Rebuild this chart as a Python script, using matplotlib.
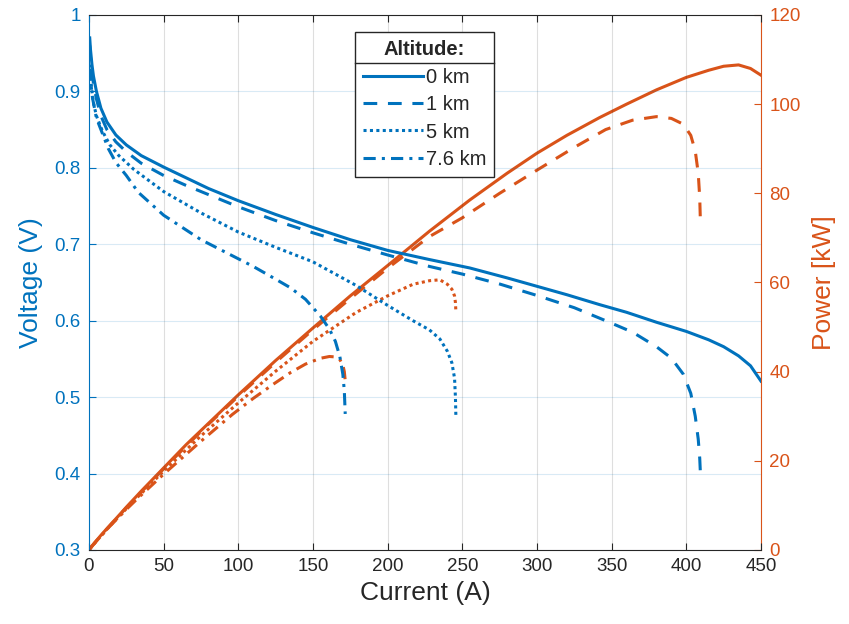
import matplotlib
matplotlib.use('Agg')
import matplotlib.pyplot as plt
from matplotlib.lines import Line2D
import numpy as np

plt.rcParams['font.family'] = ['Liberation Sans', 'DejaVu Sans']

# polarisation data, one set per altitude
altitudes = ['0 km', '1 km', '5 km', '7.6 km']

current_0 = [0.5, 1, 2, 3, 5, 8, 12, 18, 25, 35, 50, 65, 80, 100, 125, 150, 175, 200, 228, 255, 280, 300,
             320, 342, 360, 380, 400, 415, 425, 435, 443, 450]
voltage_0 = [0.97, 0.955, 0.935, 0.92, 0.90, 0.878, 0.86, 0.843, 0.83, 0.816, 0.801, 0.787, 0.773, 0.757,
             0.739, 0.722, 0.706, 0.692, 0.680, 0.669, 0.656, 0.645, 0.634, 0.621, 0.611, 0.598, 0.586,
             0.575, 0.566, 0.554, 0.541, 0.521]
power_0 = [0.2, 0.45, 0.9, 1.3, 2.1, 3.3, 4.8, 7.0, 9.6, 13.2, 18.4, 23.6, 28.4, 34.8, 42.5, 49.8, 57.0,
           63.8, 71.5, 78.5, 84.5, 89.0, 93.0, 97.0, 100.0, 103.2, 106.0, 107.6, 108.5, 108.8, 108.0, 106.5]

current_1 = [0.5, 1, 2, 3, 5, 8, 12, 18, 25, 35, 50, 65, 80, 100, 125, 150, 175, 200, 228, 250, 275, 300,
             325, 346, 364, 380, 390, 398, 403, 406, 408, 409, 409.5]
voltage_1 = [0.96, 0.945, 0.925, 0.91, 0.89, 0.868, 0.85, 0.834, 0.821, 0.806, 0.79, 0.777, 0.765, 0.749,
             0.731, 0.715, 0.700, 0.686, 0.671, 0.661, 0.648, 0.633, 0.617, 0.600, 0.585, 0.566, 0.551,
             0.530, 0.505, 0.475, 0.445, 0.42, 0.398]
power_1 = [0.2, 0.45, 0.85, 1.25, 2.05, 3.2, 4.7, 6.9, 9.5, 13.0, 18.2, 23.3, 28.2, 34.5, 42.1, 49.4, 56.4,
           63.2, 70.3, 74.5, 80.0, 85.2, 90.3, 94.3, 96.4, 97.2, 96.8, 95.5, 93.0, 89.5, 84.5, 79.0, 73.0]

current_5 = [0.5, 1, 2, 3, 5, 9, 14, 20, 30, 50, 75, 100, 125, 150, 179, 200, 217, 228, 235, 240, 243,
             244.8, 245.4, 245.7]
voltage_5 = [0.935, 0.92, 0.90, 0.885, 0.868, 0.848, 0.83, 0.816, 0.798, 0.769, 0.741, 0.716, 0.696, 0.677,
             0.646, 0.620, 0.600, 0.588, 0.576, 0.560, 0.545, 0.525, 0.50, 0.475]
power_5 = [0.2, 0.45, 0.85, 1.2, 2.0, 3.5, 5.4, 7.5, 11.0, 17.7, 25.6, 33.0, 40.1, 46.8, 53.3, 57.0, 59.6,
           60.4, 60.6, 59.6, 58.5, 57.0, 55.5, 53.5]

current_7 = [0.5, 1, 2.4, 5, 9, 13, 18, 25, 33, 50, 75, 96, 110, 123.5, 135, 145, 155, 161, 165, 168, 170,
             171, 171.6]
voltage_7 = [0.93, 0.915, 0.891, 0.865, 0.845, 0.825, 0.807, 0.79, 0.768, 0.738, 0.706, 0.685, 0.671,
             0.656, 0.643, 0.628, 0.606, 0.589, 0.573, 0.553, 0.530, 0.508, 0.478]
power_7 = [0.2, 0.4, 1.0, 2.0, 3.5, 5.0, 6.7, 9.1, 11.7, 17.0, 24.4, 30.4, 34.0, 37.2, 39.8, 41.7, 43.0,
           43.4, 43.3, 42.7, 41.5, 40.0, 38.0]

currents = [current_0, current_1, current_5, current_7]
voltages = [voltage_0, voltage_1, voltage_5, voltage_7]
powers = [power_0, power_1, power_5, power_7]

blue = '#0072BD'
orange = '#D95319'
dark = '#262626'
styles = ['-', (0, (4.5, 3.5)), (0, (1, 1.1)), (0, (4, 2, 1, 2))]

fig = plt.figure(figsize=(8.49, 6.24), dpi=100)
ax = fig.add_axes([0.1048, 0.1186, 0.7915, 0.8574])
ax2 = ax.twinx()

handles = []
for i in range(len(altitudes)):
    h, = ax.plot(currents[i], voltages[i], color=blue, lw=2.2, linestyle=styles[i], label=altitudes[i])
    handles.append(h)
    ax2.plot(currents[i], powers[i], color=orange, lw=2.2, linestyle=styles[i])

ax.set_xlim(0, 450)
ax.set_ylim(0.3, 1.0)
ax2.set_ylim(0, 120)
ax.set_xticks(np.arange(0, 451, 50))
ax.set_yticks(np.arange(0.3, 1.01, 0.1))
ax.set_yticklabels(['0.3', '0.4', '0.5', '0.6', '0.7', '0.8', '0.9', '1'])
ax2.set_yticks(np.arange(0, 121, 20))

ax.grid(True, axis='x', color=dark, alpha=0.15, lw=0.8)
ax.grid(True, axis='y', color=blue, alpha=0.15, lw=0.8)

ax.spines['right'].set_visible(False)
ax.spines['left'].set_color(blue)
ax.spines['top'].set_color(dark)
ax.spines['bottom'].set_color(dark)
for s in ['left', 'top', 'bottom']:
    ax2.spines[s].set_visible(False)
ax2.spines['right'].set_color(orange)

ax.tick_params(axis='x', direction='in', top=True, colors=dark, labelsize=13.5, length=5, pad=6)
ax.tick_params(axis='y', direction='in', colors=blue, labelsize=13.5, length=5, pad=6)
ax2.tick_params(axis='y', direction='in', colors=orange, labelsize=13.5, length=5, pad=6)

ax.set_xlabel('Current (A)', fontsize=19, color=dark, labelpad=4)
ax.set_ylabel('Voltage (V)', fontsize=19, color=blue, labelpad=8)
ax2.set_ylabel('Power [kW]', fontsize=19, color=orange, labelpad=8)

leg = ax.legend(handles=handles, title='Altitude:', loc='upper left', bbox_to_anchor=(0.396, 0.968),
                fontsize=14.5, title_fontproperties={'weight': 'bold', 'size': 14.5},
                fancybox=False, edgecolor=dark, framealpha=1, handlelength=2.95,
                handletextpad=0.15, labelspacing=0.42, borderpad=0.4, borderaxespad=0)
leg.get_frame().set_linewidth(1.0)
for t in leg.get_texts():
    t.set_color(dark)
leg.get_title().set_color(dark)
leg.set_zorder(10)
ax.set_zorder(ax2.get_zorder() + 1)
ax.patch.set_visible(False)

# line under the legend title
fig.canvas.draw()
lb = leg.get_window_extent()
tb = leg.get_title().get_window_extent()
inv = fig.transFigure.inverted()
x0, y0 = inv.transform((lb.x0, tb.y0 - 4))
x1, _ = inv.transform((lb.x1, tb.y0 - 4))
fig.add_artist(Line2D([x0, x1], [y0, y0], transform=fig.transFigure, color=dark, lw=1.0, zorder=20))

fig.savefig('out.png', dpi=100)
